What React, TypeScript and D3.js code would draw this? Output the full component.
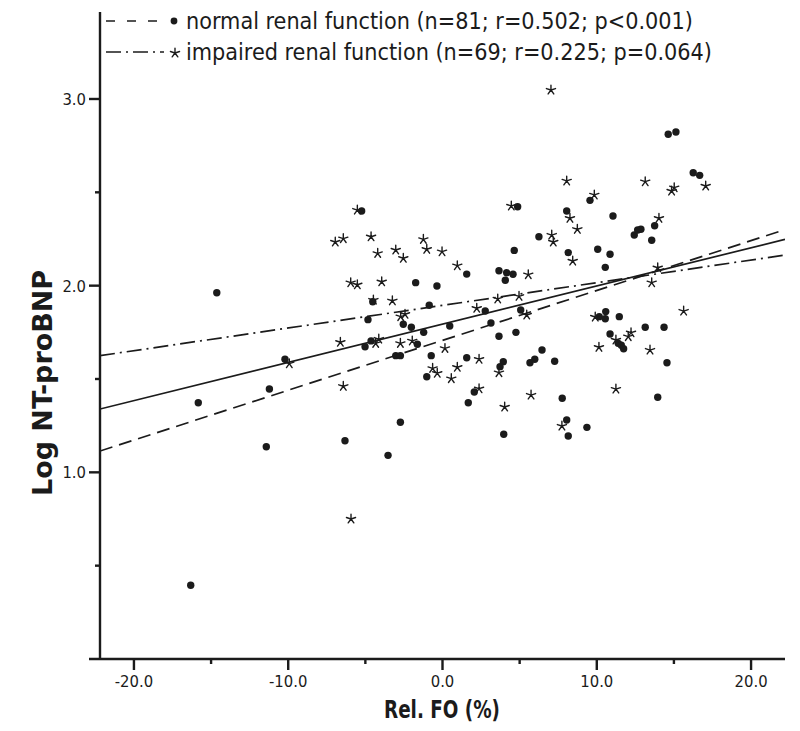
import React from 'react';
import * as d3 from 'd3';

// ---- data ----
const normalX = [-15.83, -16.32, -14.63, -10.21, -11.22, -11.42, -6.32, -2.73, -3.53, -5.24,
  1.57, 4.87, 6.25, 4.65, 3.66, 4.16, 4.57, 4.07, -1.74, -0.36,
  -4.52, -0.86, 2.77, 5.07, -4.83, -2.54, -2.02, 0.47, 3.14, -1.22,
  3.66, 4.76, -4.63, -5.02, -1.63, -3.03, -2.73, -0.73, 1.57, 3.94,
  3.73, 6.45, 5.98, 5.67, 7.27, -1.02, 2.06, 1.67, 7.76, 3.97,
  8.05, 9.36, 8.15, 14.63, 15.13, 16.25, 16.67, 9.56, 8.05, 11.05,
  13.75, 12.43, 12.65, 12.86, 13.56, 8.15, 10.06, 10.86, 10.55, 10.58,
  10.16, 10.55, 11.46, 13.14, 14.36, 10.86, 11.39, 11.59, 11.74, 14.55, 13.95];
const normalY = [1.373, 0.395, 1.962, 1.606, 1.446, 1.137, 1.169, 1.268, 1.091, 2.400,
  2.062, 2.423, 2.262, 2.189, 2.080, 2.069, 2.061, 2.029, 2.016, 1.998,
  1.914, 1.895, 1.864, 1.870, 1.818, 1.793, 1.777, 1.784, 1.800, 1.750,
  1.729, 1.750, 1.704, 1.673, 1.686, 1.625, 1.625, 1.625, 1.614, 1.593,
  1.566, 1.655, 1.606, 1.587, 1.595, 1.512, 1.430, 1.373, 1.397, 1.204,
  1.280, 1.241, 1.195, 2.811, 2.823, 2.605, 2.591, 2.457, 2.400, 2.373,
  2.321, 2.271, 2.298, 2.302, 2.243, 2.177, 2.195, 2.168, 2.098, 1.861,
  1.834, 1.823, 1.834, 1.777, 1.777, 1.741, 1.691, 1.681, 1.662, 1.587, 1.402];

const impairedX = [-9.93, -5.93, -5.52, -6.95, -6.43, -4.63, -4.20, -3.03, -2.54, -1.24,
  -1.02, -0.03, 0.96, 4.46, 7.08, 7.18, 5.56, -5.95, -5.52, -3.94,
  -4.48, -3.25, 2.22, 3.58, 4.96, 5.46, -2.71, -2.43, -6.62, -4.33,
  -4.13, -2.73, -1.96, 0.16, 2.37, 3.66, -0.64, -0.34, 0.96, 0.57,
  -6.43, 2.37, 4.03, 5.74, 7.03, 7.74, 17.06, 8.05, 13.14, 15.02,
  14.85, 9.84, 8.26, 8.74, 14.03, 8.44, 13.95, 13.56, 15.63, 9.90,
  11.24, 12.04, 12.22, 10.14, 13.45, 11.24];
const impairedY = [1.582, 0.750, 2.405, 2.234, 2.252, 2.262, 2.173, 2.191, 2.147, 2.248,
  2.195, 2.182, 2.107, 2.427, 2.271, 2.234, 2.059, 2.016, 2.005, 2.021,
  1.923, 1.919, 1.879, 1.929, 1.943, 1.843, 1.834, 1.847, 1.697, 1.691,
  1.714, 1.691, 1.704, 1.664, 1.606, 1.534, 1.557, 1.531, 1.563, 1.502,
  1.461, 1.448, 1.350, 1.414, 3.048, 1.248, 2.534, 2.561, 2.557, 2.525,
  2.507, 2.486, 2.361, 2.302, 2.361, 2.132, 2.096, 2.016, 1.864, 1.832,
  1.709, 1.727, 1.748, 1.670, 1.655, 1.446];

// regression lines: total (solid), normal (dashed), impaired (dash-dot)
const fitNames = ['total', 'normal', 'impaired'];
const fitIntercepts = [1.7935, 1.707, 1.8945];
const fitSlopes = [0.02047, 0.02671, 0.01214];

const xMajorTicks = [-20, -10, 0, 10, 20];
const xTickLabels = ['-20.0', '-10.0', '0.0', '10.0', '20.0'];
const xMinorTicks = [-15, -5, 5, 15];
const yMajorTicks = [1, 2, 3];
const yTickLabels = ['1.0', '2.0', '3.0'];
const yMinorTicks = [0.5, 1.5, 2.5];

const legendLabels = [
  'normal renal function (n=81; r=0.502; p<0.001)',
  'impaired renal function (n=69; r=0.225; p=0.064)',
];

const xTitle = 'Rel. FO (%)';
const yTitle = 'Log NT-proBNP';

// ---- layout ----
const W = 800, H = 731;
const X0 = 100, X1 = 785, Y0 = 659, Y1 = 12;
const xScale = d3.scaleLinear().domain([-22.2, 22.2]).range([X0, X1]);
const yScale = d3.scaleLinear().domain([0, 3.466]).range([Y0, Y1]);

const INK = '#1b1b1b';
const FONT = '"DejaVu Sans Condensed", "DejaVu Sans", sans-serif';
const dashes: Record<string, string | undefined> = {
  total: undefined,
  normal: '13,7',
  impaired: '15,5,2,5',
};

// 5-armed asterisk marker
const STAR_R = 4.8;
const starPath = d3.range(5).map(k => {
  const a = -Math.PI / 2 + (k * 2 * Math.PI) / 5;
  return `M0,0L${(STAR_R * Math.cos(a)).toFixed(2)},${(STAR_R * Math.sin(a)).toFixed(2)}`;
}).join('');

export default function App() {
  const [xa, xb] = xScale.domain();
  return (
    <svg width={W} height={H} style={{ position: 'absolute', left: 0, top: 0, background: '#fff' }}
      xmlns="http://www.w3.org/2000/svg">
      <defs>
        <clipPath id="plot">
          <rect x={X0} y={Y1} width={X1 - X0} height={Y0 - Y1} />
        </clipPath>
      </defs>
      <rect x={0} y={0} width={W} height={H} fill="#fff" />

      {/* regression lines */}
      <g clipPath="url(#plot)">
        {fitNames.map((n, i) => (
          <line key={n}
            x1={xScale(xa)} y1={yScale(fitIntercepts[i] + fitSlopes[i] * xa)}
            x2={xScale(xb)} y2={yScale(fitIntercepts[i] + fitSlopes[i] * xb)}
            stroke={INK} strokeWidth={1.7} strokeDasharray={dashes[n]} />
        ))}
      </g>

      {/* points */}
      <g>
        {normalX.map((x, i) => (
          <circle key={'n' + i} cx={xScale(x)} cy={yScale(normalY[i])} r={3.7} fill={INK} />
        ))}
        {impairedX.map((x, i) => (
          <path key={'i' + i} d={starPath} transform={`translate(${xScale(x)},${yScale(impairedY[i])})`}
            fill="none" stroke={INK} strokeWidth={1.4} strokeLinecap="round" />
        ))}
      </g>

      {/* axes */}
      <g stroke={INK} strokeWidth={2.4}>
        <line x1={89} y1={Y0} x2={X1} y2={Y0} />
        <line x1={X0} y1={Y1} x2={X0} y2={Y0} />
        {xMajorTicks.map(t => <line key={'xm' + t} x1={xScale(t)} x2={xScale(t)} y1={Y0} y2={Y0 + 11} />)}
        {xMinorTicks.map(t => <line key={'xn' + t} x1={xScale(t)} x2={xScale(t)} y1={Y0} y2={Y0 + 5} />)}
        {yMajorTicks.map(t => <line key={'ym' + t} y1={yScale(t)} y2={yScale(t)} x1={X0 - 11} x2={X0} />)}
        {yMinorTicks.map(t => <line key={'yn' + t} y1={yScale(t)} y2={yScale(t)} x1={X0 - 5} x2={X0} />)}
      </g>
      <g fill={INK} fontFamily={FONT} fontSize={16.5}>
        {xMajorTicks.map((t, i) => (
          <text key={'xl' + t} x={xScale(t)} y={687} textAnchor="middle">{xTickLabels[i]}</text>
        ))}
        {yMajorTicks.map((t, i) => (
          <text key={'yl' + t} x={86} y={yScale(t)} dy="0.36em" textAnchor="end">{yTickLabels[i]}</text>
        ))}
      </g>

      {/* axis titles */}
      <text x={442} y={718} textAnchor="middle" fontFamily={FONT} fontWeight="bold" fontSize={25}
        fill={INK} textLength={116} lengthAdjust="spacingAndGlyphs">{xTitle}</text>
      <text transform="translate(52,383) rotate(-90)" textAnchor="middle" fontFamily={FONT}
        fontWeight="bold" fontSize={26} fill={INK} textLength={226} lengthAdjust="spacingAndGlyphs">{yTitle}</text>

      {/* legend */}
      <g>
        <line x1={106} x2={162} y1={21} y2={21} stroke={INK} strokeWidth={1.7} strokeDasharray="9,12" />
        <circle cx={174} cy={21} r={3.4} fill={INK} />
        <line x1={106} x2={164} y1={52} y2={52} stroke={INK} strokeWidth={1.7} strokeDasharray="15,5,2,5" />
        <path d={starPath} transform="translate(175,53)" fill="none" stroke={INK} strokeWidth={1.4} strokeLinecap="round" />
        <text x={186} y={29} fontFamily={FONT} fontSize={23} fill={INK}
          textLength={507} lengthAdjust="spacingAndGlyphs">{legendLabels[0]}</text>
        <text x={186} y={60} fontFamily={FONT} fontSize={23} fill={INK}
          textLength={526} lengthAdjust="spacingAndGlyphs">{legendLabels[1]}</text>
      </g>
    </svg>
  );
}
